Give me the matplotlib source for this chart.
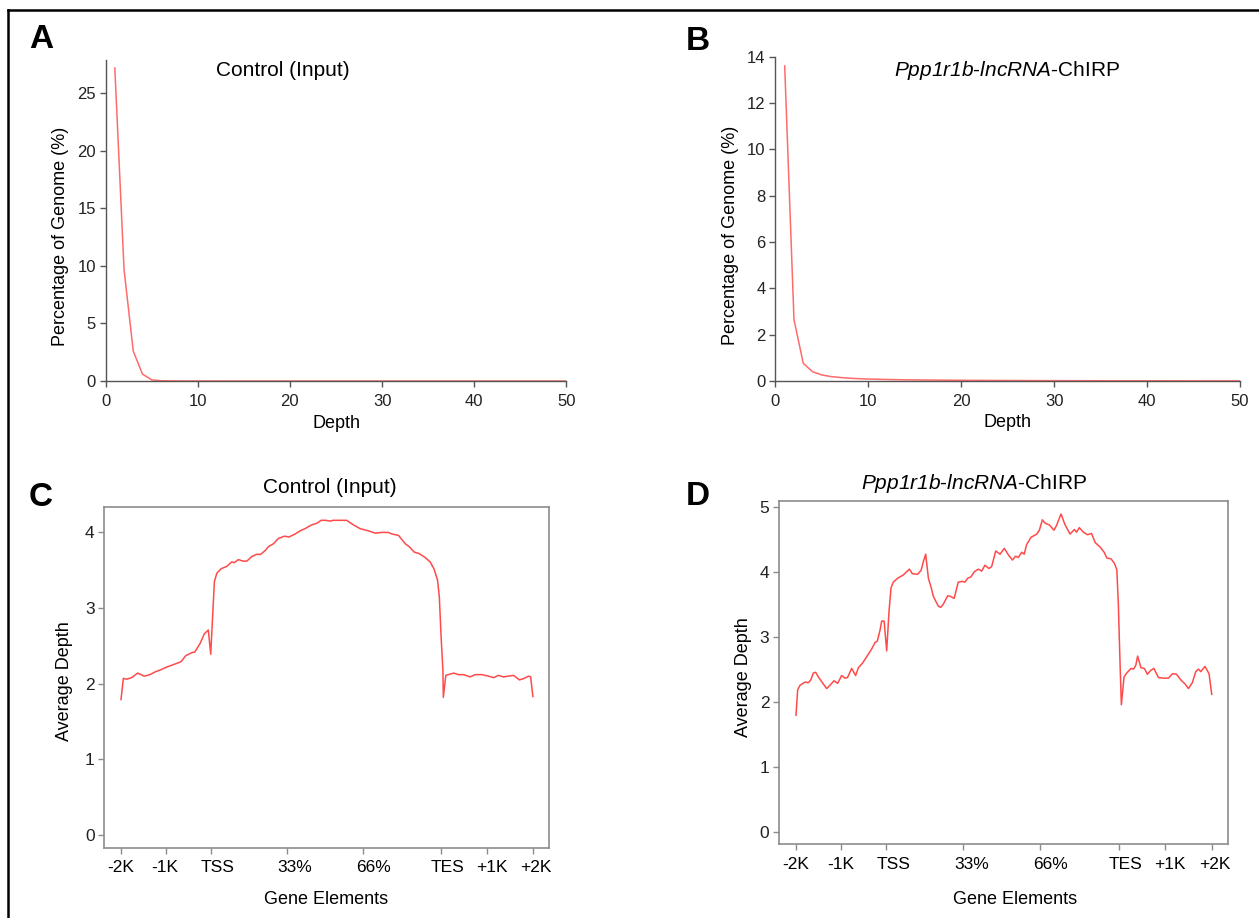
import matplotlib.pyplot as plt
from matplotlib.lines import Line2D

plt.rcParams['font.family'] = ['Liberation Sans', 'DejaVu Sans']
# italic gene names: math text drawn fully in the italic face (digits included)
plt.rcParams['mathtext.fontset'] = 'custom'
plt.rcParams['mathtext.it'] = 'Liberation Sans:italic'
plt.rcParams['mathtext.rm'] = 'Liberation Sans:italic'

# --- depth distribution (panels A and B) ---
depth = list(range(1, 51))
pct_control = [27.2, 9.7, 2.6, 0.6, 0.1, 0.02, 0.01, 0.005, 0.003, 0.002,
               0.001, 0.001, 0.001, 0.0, 0.0, 0.0, 0.0, 0.0, 0.0, 0.0,
               0.0, 0.0, 0.0, 0.0, 0.0, 0.0, 0.0, 0.0, 0.0, 0.0,
               0.0, 0.0, 0.0, 0.0, 0.0, 0.0, 0.0, 0.0, 0.0, 0.0,
               0.0, 0.0, 0.0, 0.0, 0.0, 0.0, 0.0, 0.0, 0.0, 0.0]
pct_chirp = [13.6, 2.65, 0.76, 0.40, 0.26, 0.19, 0.15, 0.12, 0.10, 0.085,
             0.075, 0.065, 0.058, 0.052, 0.047, 0.043, 0.039, 0.036, 0.033, 0.030,
             0.028, 0.026, 0.024, 0.022, 0.021, 0.019, 0.018, 0.017, 0.016, 0.015,
             0.014, 0.013, 0.012, 0.012, 0.011, 0.010, 0.010, 0.009, 0.009, 0.008,
             0.008, 0.007, 0.007, 0.007, 0.006, 0.006, 0.006, 0.005, 0.005, 0.005]

# --- gene element profiles (panels C and D) ---
gene_ticks = [0, 10, 20, 37, 54, 71.5, 81.7, 92]
gene_label_pos = [0, 9.8, 21.6, 38.8, 56.4, 72.9, 82.8, 92.6]
gene_tick_labels = ['-2K', '-1K', 'TSS', '33%', '66%', 'TES', '+1K', '+2K']

control_x = [0, 0.52, 1.27, 2.38, 3.72, 5.2, 6.48, 7.75, 8.72, 10.2,
             12.07, 13.4, 14.45, 15.8, 16.5, 17.65, 18.62, 19.5, 20.04, 20.86,
             21.4, 22.35, 23.6, 24.73, 25.3, 26.2, 27.35, 28.1, 29.2, 30.3,
             31.2, 32.2, 32.9, 34.04, 35.16, 36.5, 37.55, 38.9, 40.0, 41.1,
             42.6, 43.7, 44.7, 45.7, 46.7, 47.4, 48.6, 50.4, 51.9, 53.4,
             55.3, 56.8, 58.25, 59.7, 60.5, 62.0, 63.5, 64.4, 65.5, 66.6,
             67.9, 69.05, 69.9, 70.7, 71.1, 71.5, 71.9, 72.0, 72.55, 73.1,
             74.3, 75.4, 76.5, 78.0, 79.1, 80.6, 82.1, 83.2, 84.3, 85.4,
             86.5, 87.7, 89.0, 90.05, 91.0, 91.5, 92.0]
control_depth = [1.79, 2.07, 2.06, 2.08, 2.14, 2.10, 2.12, 2.16, 2.18, 2.22,
                 2.26, 2.29, 2.37, 2.41, 2.42, 2.53, 2.66, 2.71, 2.39, 3.35,
                 3.46, 3.52, 3.55, 3.61, 3.60, 3.64, 3.62, 3.62, 3.68, 3.71,
                 3.71, 3.76, 3.81, 3.85, 3.92, 3.95, 3.94, 3.98, 4.02, 4.05,
                 4.10, 4.12, 4.16, 4.16, 4.15, 4.16, 4.16, 4.16, 4.10, 4.05,
                 4.02, 3.99, 4.00, 4.00, 3.98, 3.96, 3.85, 3.81, 3.74, 3.72,
                 3.67, 3.61, 3.52, 3.37, 3.15, 2.62, 2.18, 1.82, 2.11, 2.12,
                 2.14, 2.12, 2.12, 2.09, 2.12, 2.12, 2.10, 2.08, 2.11, 2.09,
                 2.10, 2.11, 2.05, 2.07, 2.10, 2.09, 1.83]

chirp_x = [0, 0.37, 0.89, 1.99, 2.73, 3.25, 3.84, 4.35, 4.94, 6.05,
           6.79, 7.52, 8.41, 9.22, 10.1, 10.85, 11.4, 12.32, 13.2, 13.8,
           14.7, 15.64, 16.75, 17.5, 18.0, 18.6, 18.96, 19.5, 20.07, 20.58,
           21.02, 21.54, 22.5, 23.75, 24.5, 25.1, 25.75, 26.9, 27.67, 28.2,
           28.7, 29.3, 29.9, 30.4, 30.9, 31.5, 32.0, 32.6, 33.57, 34.2,
           35.0, 35.9, 36.8, 37.4, 38.0, 38.7, 39.47, 40.35, 41.1, 41.8,
           42.7, 43.3, 44.2, 45.15, 46.1, 47.0, 47.9, 48.6, 49.2, 49.95,
           50.5, 51.05, 52.0, 53.27, 53.86, 54.52, 55.1, 56.07, 57.1, 57.7,
           58.65, 59.5, 60.65, 61.6, 62.1, 62.7, 63.6, 64.5, 65.4, 66.2,
           67.3, 68.2, 68.8, 69.7, 70.46, 71.0, 71.34, 71.7, 72.0, 72.6,
           73.2, 74.15, 74.7, 75.2, 75.6, 76.35, 77.1, 77.76, 78.5, 79.2,
           80.2, 81.3, 82.4, 83.35, 84.2, 85.2, 86.1, 86.84, 87.7, 88.46,
           89.05, 89.57, 90.5, 91.4, 92.0]
chirp_depth = [1.80, 2.19, 2.26, 2.31, 2.30, 2.34, 2.45, 2.46, 2.39, 2.28,
               2.21, 2.26, 2.33, 2.29, 2.41, 2.37, 2.38, 2.52, 2.41, 2.53,
               2.60, 2.70, 2.82, 2.92, 2.94, 3.11, 3.25, 3.25, 2.79, 3.39,
               3.76, 3.85, 3.91, 3.96, 4.01, 4.05, 3.98, 3.97, 4.03, 4.17,
               4.28, 3.91, 3.77, 3.63, 3.56, 3.48, 3.46, 3.51, 3.64, 3.63,
               3.60, 3.85, 3.86, 3.85, 3.91, 3.93, 4.01, 4.05, 4.02, 4.11,
               4.06, 4.09, 4.33, 4.28, 4.37, 4.27, 4.19, 4.25, 4.23, 4.31,
               4.28, 4.43, 4.54, 4.59, 4.65, 4.81, 4.76, 4.73, 4.65, 4.73,
               4.90, 4.74, 4.59, 4.66, 4.62, 4.69, 4.62, 4.58, 4.60, 4.46,
               4.39, 4.31, 4.22, 4.21, 4.14, 4.04, 3.50, 2.62, 1.96, 2.39,
               2.45, 2.52, 2.51, 2.57, 2.71, 2.53, 2.52, 2.43, 2.49, 2.52,
               2.38, 2.37, 2.37, 2.44, 2.43, 2.34, 2.28, 2.21, 2.30, 2.47,
               2.51, 2.47, 2.55, 2.44, 2.12]

LINE_AB = '#ff6b6b'
LINE_CD = '#ff4a4a'
AXIS_AB = '#555555'
AXIS_CD = '#8c8c8c'
CHIRP_TITLE = r'$Ppp1r1b$-$lncRNA$-ChIRP'


def style_depth_axes(ax):
    ax.spines['top'].set_visible(False)
    ax.spines['right'].set_visible(False)
    for side in ['left', 'bottom']:
        ax.spines[side].set_color(AXIS_AB)
        ax.spines[side].set_linewidth(1.0)
    ax.tick_params(direction='out', length=4, width=1, color=AXIS_AB,
                   labelsize=12, labelcolor='#222222')
    ax.tick_params(axis='x', pad=5)
    ax.tick_params(axis='y', pad=3)
    ax.set_xlim(0, 50)
    ax.set_xticks(range(0, 51, 10))


def style_profile_axes(ax):
    for side in ax.spines:
        ax.spines[side].set_color(AXIS_CD)
        ax.spines[side].set_linewidth(1.2)
    ax.tick_params(direction='out', length=4, width=1, color=AXIS_CD,
                   labelsize=12.5, labelcolor='#222222')
    # tick marks on the major ticks, the text sits slightly to the right
    ax.xaxis.remove_overlapping_locs = False
    ax.set_xticks(gene_ticks, labels=[''] * len(gene_ticks))
    ax.set_xticks(gene_label_pos, labels=gene_tick_labels, minor=True)
    ax.tick_params(axis='x', which='minor', length=0, pad=9, labelsize=12.5)
    ax.tick_params(axis='y', pad=3)


fig = plt.figure(figsize=(12.59, 9.18), dpi=100)

# outer frame (top and left edges only)
fig.add_artist(Line2D([8 / 1259, 1.0], [1 - 10 / 918, 1 - 10 / 918],
                      transform=fig.transFigure, color='black', lw=1.8))
fig.add_artist(Line2D([8 / 1259, 8 / 1259], [0.0, 1 - 10 / 918],
                      transform=fig.transFigure, color='black', lw=1.8))

# A
ax_a = fig.add_axes([105.6 / 1259, 1 - 381 / 918, 460.8 / 1259, 321 / 918])
ax_a.plot(depth, pct_control, color=LINE_AB, lw=1.1)
style_depth_axes(ax_a)
ax_a.set_ylim(0, 27.9)
ax_a.set_yticks(range(0, 26, 5))
ax_a.set_xlabel('Depth', fontsize=13, va='center')
ax_a.xaxis.set_label_coords(0.5, -0.131)
ax_a.set_ylabel('Percentage of Genome (%)', fontsize=13, va='center')
ax_a.yaxis.set_label_coords(-0.097, 0.452)
ax_a.text(0.385, 0.966, 'Control (Input)', transform=ax_a.transAxes,
          ha='center', va='center', fontsize=15)

# B
ax_b = fig.add_axes([775.4 / 1259, 1 - 381 / 918, 464.6 / 1259, 324.3 / 918])
ax_b.plot(depth, pct_chirp, color=LINE_AB, lw=1.1)
style_depth_axes(ax_b)
ax_b.set_ylim(0, 14)
ax_b.set_yticks(range(0, 15, 2))
ax_b.set_xlabel('Depth', fontsize=13, va='center')
ax_b.xaxis.set_label_coords(0.5, -0.1295)
ax_b.set_ylabel('Percentage of Genome (%)', fontsize=13, va='center')
ax_b.yaxis.set_label_coords(-0.0956, 0.45)
ax_b.text(0.498, 0.956, CHIRP_TITLE, transform=ax_b.transAxes,
          ha='center', va='center', fontsize=15)

# C
ax_c = fig.add_axes([104.3 / 1259, 1 - 847.7 / 918, 444.7 / 1259, 341 / 918])
ax_c.plot(control_x, control_depth, color=LINE_CD, lw=1.1)
style_profile_axes(ax_c)
ax_c.set_xlim(-3.73, 95.6)
ax_c.set_ylim(-0.168, 4.34)
ax_c.set_yticks(range(0, 5))
ax_c.set_xlabel('Gene Elements', fontsize=13, va='center')
ax_c.xaxis.set_label_coords(0.4997, -0.153)
ax_c.set_ylabel('Average Depth', fontsize=13, va='center')
ax_c.yaxis.set_label_coords(-0.0884, 0.489)
ax_c.text(0.5075, 1.055, 'Control (Input)', transform=ax_c.transAxes,
          ha='center', va='center', fontsize=15)

# D
ax_d = fig.add_axes([779 / 1259, 1 - 844.3 / 918, 449 / 1259, 343.3 / 918])
ax_d.plot(chirp_x, chirp_depth, color=LINE_CD, lw=1.1)
style_profile_axes(ax_d)
ax_d.set_xlim(-3.76, 95.6)
ax_d.set_ylim(-0.19, 5.1)
ax_d.set_yticks(range(0, 6))
ax_d.set_xlabel('Gene Elements', fontsize=13, va='center')
ax_d.xaxis.set_label_coords(0.526, -0.162)
ax_d.set_ylabel('Average Depth', fontsize=13, va='center')
ax_d.yaxis.set_label_coords(-0.080, 0.487)
ax_d.text(0.434, 1.052, CHIRP_TITLE, transform=ax_d.transAxes,
          ha='center', va='center', fontsize=15)

# panel letters
for letter, (px, py) in zip('ABCD', [(41, 40), (698, 41), (41, 497), (698, 496)]):
    fig.text(px / 1259, 1 - py / 918, letter, fontsize=24, fontweight='bold',
             ha='center', va='center')

fig.savefig('out.png', dpi=100)
